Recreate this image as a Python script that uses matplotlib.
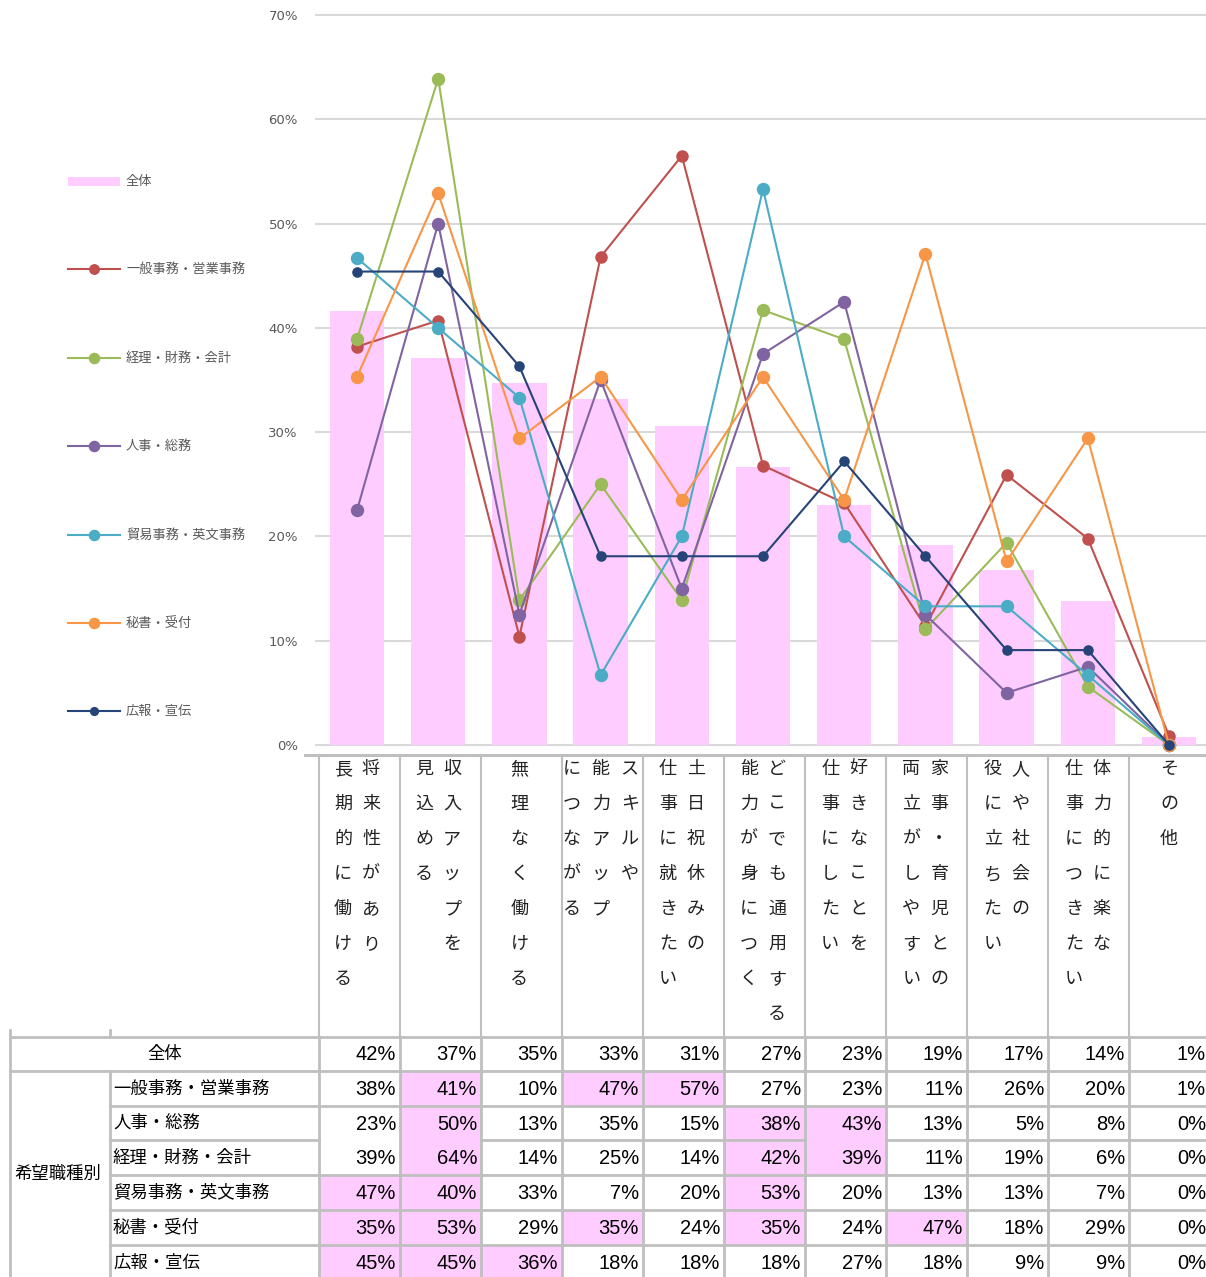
import matplotlib
matplotlib.use("Agg")
import matplotlib.pyplot as plt
from matplotlib.patches import Rectangle

plt.rcParams['font.family'] = ['Noto Sans CJK JP', 'DejaVu Sans']

# category labels (vertical text, columns read right to left)
categories = [
    ["将来性があり", "長期的に働ける"],
    ["収入アップを", "見込める"],
    ["無理なく働ける"],
    ["スキルや", "能力アップ", "につながる"],
    ["土日祝休みの", "仕事に就きたい"],
    ["どこでも通用する", "能力が身につく"],
    ["好きなことを", "仕事にしたい"],
    ["家事・育児との", "両立がしやすい"],
    ["人や社会の", "役に立ちたい"],
    ["体力的に楽な", "仕事につきたい"],
    ["その他"],
]

overall = [41.6, 37.1, 34.7, 33.2, 30.6, 26.7, 23.0, 19.2, 16.8, 13.8, 0.8]

series_names = ["一般事務・営業事務", "経理・財務・会計", "人事・総務",
                "貿易事務・英文事務", "秘書・受付", "広報・宣伝"]
general = [38.2, 40.7, 10.4, 46.8, 56.5, 26.8, 23.2, 11.4, 25.9, 19.8, 0.9]
accounting = [38.9, 63.9, 13.9, 25.0, 13.9, 41.7, 38.9, 11.1, 19.4, 5.6, 0.0]
hr = [22.5, 50.0, 12.5, 35.0, 15.0, 37.5, 42.5, 12.5, 5.0, 7.5, 0.0]
trade = [46.7, 40.0, 33.3, 6.7, 20.0, 53.3, 20.0, 13.3, 13.3, 6.7, 0.0]
secretary = [35.3, 52.9, 29.4, 35.3, 23.5, 35.3, 23.5, 47.1, 17.6, 29.4, 0.0]
pr = [45.4, 45.4, 36.3, 18.1, 18.1, 18.1, 27.2, 18.1, 9.1, 9.1, 0.0]

# table row order differs from legend order
table_names = ["一般事務・営業事務", "人事・総務", "経理・財務・会計",
               "貿易事務・英文事務", "秘書・受付", "広報・宣伝"]
# highlighted (pink) cells per table row: column indices
highlights = [[1, 3, 4], [1, 5, 6], [1, 5, 6], [0, 1, 5], [0, 1, 3, 5, 7], [0, 1, 2]]

colors = ["#C0504D", "#9BBB59", "#8064A2", "#4BACC6", "#F79646", "#264478"]
msizes = [8, 8.6, 8.6, 8.6, 8.6, 6.6]
pink = "#FFCCFF"
border = "#BFBFBF"
label_gray = "#595959"

W, H = 1206, 1277
fig = plt.figure(figsize=(W / 100, H / 100), dpi=100)

# background axes in pixel coords for table, labels and legend
bg = fig.add_axes([0, 0, 1, 1])
bg.set_xlim(0, W)
bg.set_ylim(H, 0)
bg.axis("off")

# main chart
x0, step = 357, 81.2
ax_left, ax_right, ax_top, ax_bot = 316, 1206, 15, 745
ax = fig.add_axes([ax_left / W, (H - ax_bot) / H, (ax_right - ax_left) / W, (ax_bot - ax_top) / H])
ax.set_xlim(-(x0 - ax_left) / step, (ax_right - x0) / step)
ax.set_ylim(0, 70)
ax.patch.set_alpha(0)
for s in ax.spines.values():
    s.set_visible(False)
for g in range(0, 71, 10):
    ax.axhline(g, color="#D9D9D9", lw=1.5, zorder=0, clip_on=False)
ax.set_xticks([])
ax.set_yticks(range(0, 71, 10))
ax.set_yticklabels([f"{v}%" for v in range(0, 71, 10)], color=label_gray,
                   fontsize=9.5, family="DejaVu Sans")
ax.tick_params(axis="y", length=0, pad=13)

xs = list(range(len(overall)))
ax.bar(xs, overall, width=0.67, color=pink, zorder=1)
all_series = [general, accounting, hr, trade, secretary, pr]
for vals, c, ms in zip(all_series, colors, msizes):
    ax.plot(xs, vals, color=c, lw=1.5, marker="o", ms=ms, zorder=3, clip_on=False)

# legend
leg_y = [181, 269, 358, 446, 535, 623, 711]
bg.add_patch(Rectangle((68, leg_y[0] - 4.5), 52, 9, color=pink, lw=0))
bg.text(126, leg_y[0], "全体", fontsize=9.5, color=label_gray, va="center")
for name, c, ms, y in zip(series_names, colors, msizes, leg_y[1:]):
    bg.plot([68, 120], [y, y], color=c, lw=1.5)
    bg.plot([94], [y], marker="o", color=c, ms=ms * 0.85)
    bg.text(126, y, name, fontsize=9.5, color=label_gray, va="center")

# category header cells
col_l = 319
col_w = 81
ncol = len(categories)
bg.plot([305, W], [755, 755], color=border, lw=2.2)
for k in range(ncol):
    xl = col_l + k * col_w
    bg.plot([xl, xl], [755, 1037], color=border, lw=1.5)
    cx = x0 + k * step
    cols = categories[k]
    n = len(cols)
    for j, text in enumerate(cols):
        # first column is rightmost
        px = cx + (n - 1) * 14 - j * 28 if n < 3 else cx + 29 - j * 29
        for i, ch in enumerate(text):
            bg.text(px, 769 + i * 35, ch, fontsize=13, ha="center", va="center", color="#222222")

# data table
row_y = [1037, 1071, 1106, 1140, 1175, 1210, 1245, 1280]
num_font = ['Liberation Sans', 'DejaVu Sans']
table_data = {"一般事務・営業事務": general, "人事・総務": hr, "経理・財務・会計": accounting,
              "貿易事務・英文事務": trade, "秘書・受付": secretary, "広報・宣伝": pr}

def pct(v):
    return f"{int(v + 0.5)}%"

# pink highlights
for r, cols_h in enumerate(highlights):
    for k in cols_h:
        bg.add_patch(Rectangle((col_l + k * col_w, row_y[r + 1]), col_w, row_y[r + 2] - row_y[r + 1],
                               color=pink, lw=0, zorder=0))

# overall row
bg.text(165, (row_y[0] + row_y[1]) / 2, "全体", fontsize=12.5, ha="center", va="center")
for k, v in enumerate(overall):
    bg.text(col_l + (k + 1) * col_w - 4, (row_y[0] + row_y[1]) / 2 + 1, pct(v), fontsize=14.5,
            ha="right", va="center", family=num_font)
for r, name in enumerate(table_names):
    yc = (row_y[r + 1] + row_y[r + 2]) / 2
    bg.text(113, yc, name, fontsize=12.5, ha="left", va="center")
    for k, v in enumerate(table_data[name]):
        bg.text(col_l + (k + 1) * col_w - 4, yc + 1, pct(v), fontsize=14.5,
                ha="right", va="center", family=num_font)
bg.text(58, (row_y[1] + H) / 2, "希望職種別", fontsize=12.5, ha="center", va="center")

# table borders
bg.plot([10, W], [row_y[0], row_y[0]], color=border, lw=2)
bg.plot([10, W], [row_y[1], row_y[1]], color=border, lw=2)
merged = [0, 1, 6]  # columns without border between 人事 and 経理 rows
for r in range(2, 7):
    y = row_y[r]
    if r == 3:
        bg.plot([110, col_l], [y, y], color=border, lw=2)
        for k in range(ncol):
            if k not in merged:
                bg.plot([col_l + k * col_w, col_l + (k + 1) * col_w], [y, y], color=border, lw=2)
    else:
        bg.plot([110, W], [y, y], color=border, lw=2)
bg.plot([10, 10], [1030, H], color=border, lw=2)
bg.plot([110, 110], [1030, 1037], color=border, lw=2)
bg.plot([110, 110], [row_y[1], H], color=border, lw=2)
for k in range(ncol):
    xl = col_l + k * col_w
    bg.plot([xl, xl], [1037, H], color=border, lw=2)

fig.savefig("out.png", dpi=100)
